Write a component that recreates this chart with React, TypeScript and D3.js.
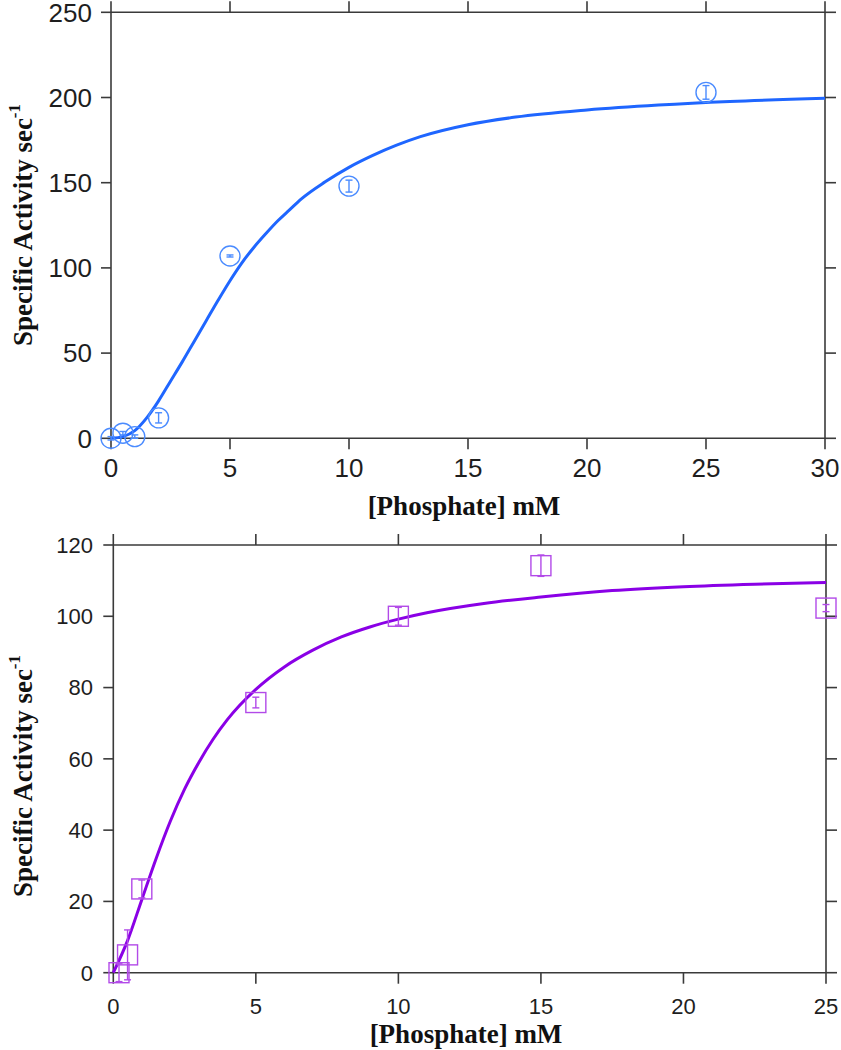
import React from "react";
import * as d3 from "d3";

// ---------- Panel A (top, blue, circles) ----------
const topPtX = [0, 0.5, 1, 2, 5, 10, 25];
const topPtY = [0, 3, 1, 12, 107, 148, 203];
const topPtErr = [1, 1, 1, 3, 0.6, 3.5, 4];
const topCurveX = [0, 0.5, 1, 1.5, 2, 2.5, 3, 3.5, 4, 4.5, 5, 5.5, 6, 6.5, 7, 7.5, 8, 9, 10, 11, 12, 13, 15, 17, 20, 23, 26, 30];
const topCurveY = [0, 1, 4.5, 12, 22, 33.5, 45, 57, 69, 81, 92.5, 103, 112, 120, 127.5, 134, 140.5, 150.5, 159, 166, 172, 177, 184, 188.5, 192.7, 195.6, 197.7, 199.5];
const topXTicks = [0, 5, 10, 15, 20, 25, 30];
const topYTicks = [0, 50, 100, 150, 200, 250];

// ---------- Panel B (bottom, purple, squares) ----------
const botPtX = [0.2, 0.5, 1, 5, 10, 15, 25];
const botPtY = [0, 5, 23.5, 75.8, 100, 114.2, 102.3];
const botPtErr = [2.5, 7, 2.5, 1.5, 2.5, 3, 1];
const botCurveX = [0, 0.5, 1, 1.5, 2, 2.5, 3, 3.5, 4, 5, 6, 7, 8, 9, 10, 11, 13, 15, 17.5, 20, 22.5, 25];
const botCurveY = [0, 9, 20.5, 32, 42.5, 51.5, 59, 65.5, 71, 79.5, 85.8, 90.5, 94.2, 97, 99.2, 101, 103.6, 105.4, 107.2, 108.3, 109, 109.5];
const botXTicks = [0, 5, 10, 15, 20, 25];
const botYTicks = [0, 20, 40, 60, 80, 100, 120];

const AXIS = "#3a3a3a";
const LABEL = "#1e1e1e";

type PanelProps = {
  x0: number; x1: number; y0: number; y1: number;
  xDomain: [number, number]; yDomain: [number, number];
  xTicks: number[]; yTicks: number[];
  ptX: number[]; ptY: number[]; ptErr: number[];
  curveX: number[]; curveY: number[];
  lineColor: string; markColor: string; marker: "circle" | "square";
  tickFont: number; xLabelBaseline: number; yLabelX: number;
  xTitleX: number; xTitleY: number; yTitleX: number; yTitleY: number;
};

function Panel(p: PanelProps) {
  const xs = d3.scaleLinear().domain(p.xDomain).range([p.x0, p.x1]);
  const ys = d3.scaleLinear().domain(p.yDomain).range([p.y1, p.y0]);
  const line = d3
    .line<number>()
    .x((d, i) => xs(p.curveX[i]))
    .y((d) => ys(d))
    .curve(d3.curveMonotoneX);
  const tl = 11;
  return (
    <g>
      {/* frame */}
      <line x1={p.x0} x2={p.x1} y1={p.y1} y2={p.y1} stroke={AXIS} strokeWidth={1.6} />
      <line x1={p.x0} x2={p.x1} y1={p.y0} y2={p.y0} stroke={AXIS} strokeWidth={1.6} />
      <line x1={p.x0} x2={p.x0} y1={p.y0} y2={p.y1} stroke={AXIS} strokeWidth={1.6} />
      <line x1={p.x1} x2={p.x1} y1={p.y0} y2={p.y1} stroke={AXIS} strokeWidth={1.6} />
      {p.xTicks.map((t) => (
        <g key={"xt" + t}>
          <line x1={xs(t)} x2={xs(t)} y1={p.y1} y2={p.y1 + tl} stroke={AXIS} strokeWidth={1.6} />
          <line x1={xs(t)} x2={xs(t)} y1={p.y0} y2={p.y0 - tl} stroke={AXIS} strokeWidth={1.6} />
          <text x={xs(t)} y={p.xLabelBaseline} textAnchor="middle" fontFamily="'Liberation Sans', Arial, sans-serif" fontSize={p.tickFont} fill={LABEL}>{t}</text>
        </g>
      ))}
      {p.yTicks.map((t) => (
        <g key={"yt" + t}>
          <line x1={p.x0 - 10} x2={p.x0} y1={ys(t)} y2={ys(t)} stroke={AXIS} strokeWidth={1.6} />
          <line x1={p.x1} x2={p.x1 + tl} y1={ys(t)} y2={ys(t)} stroke={AXIS} strokeWidth={1.6} />
          <text x={p.yLabelX} y={ys(t)} dy="0.36em" textAnchor="end" fontFamily="'Liberation Sans', Arial, sans-serif" fontSize={p.tickFont} fill={LABEL}>{t}</text>
        </g>
      ))}
      {/* curve */}
      <path d={line(p.curveY) || ""} fill="none" stroke={p.lineColor} strokeWidth={3} strokeLinejoin="round" />
      {/* points */}
      {p.ptX.map((xv, i) => {
        const cx = xs(xv);
        const cy = ys(p.ptY[i]);
        const top = ys(p.ptY[i] + p.ptErr[i]);
        const bot = ys(p.ptY[i] - p.ptErr[i]);
        return (
          <g key={"pt" + i} stroke={p.markColor} fill="none" strokeWidth={1.4}>
            {p.marker === "circle" ? (
              <circle cx={cx} cy={cy} r={10} />
            ) : (
              <rect x={cx - 10} y={cy - 10} width={20} height={20} />
            )}
            <line x1={cx} x2={cx} y1={top} y2={bot} />
            <line x1={cx - 3.5} x2={cx + 3.5} y1={top} y2={top} />
            <line x1={cx - 3.5} x2={cx + 3.5} y1={bot} y2={bot} />
          </g>
        );
      })}
      {/* titles */}
      <text x={p.xTitleX} y={p.xTitleY} textAnchor="middle" fontFamily="'Liberation Serif', 'Times New Roman', serif" fontWeight="bold" fontSize={27} fill="#111">[Phosphate] mM</text>
      <text transform={`translate(${p.yTitleX},${p.yTitleY}) rotate(-90)`} textAnchor="middle" fontFamily="'Liberation Serif', 'Times New Roman', serif" fontWeight="bold" fontSize={27} fill="#111">
        Specific Activity sec
        <tspan fontSize={17} dy={-12}>-1</tspan>
      </text>
    </g>
  );
}

export default function App() {
  return (
    <svg width={841} height={1050} style={{ position: "absolute", left: 0, top: 0, background: "#fff" }}>
      <rect width={841} height={1050} fill="#fff" />
      <Panel
        x0={111} x1={825} y0={12.3} y1={438.3}
        xDomain={[0, 30]} yDomain={[0, 250]}
        xTicks={topXTicks} yTicks={topYTicks}
        ptX={topPtX} ptY={topPtY} ptErr={topPtErr}
        curveX={topCurveX} curveY={topCurveY}
        lineColor="#1f66ff" markColor="#4a8bff" marker="circle"
        tickFont={26} xLabelBaseline={477} yLabelX={92}
        xTitleX={464} xTitleY={515} yTitleX={32} yTitleY={225}
      />
      <Panel
        x0={113.3} x1={826} y0={545} y1={972.7}
        xDomain={[0, 25]} yDomain={[0, 120]}
        xTicks={botXTicks} yTicks={botYTicks}
        ptX={botPtX} ptY={botPtY} ptErr={botPtErr}
        curveX={botCurveX} curveY={botCurveY}
        lineColor="#8a00e6" markColor="#b24ae8" marker="square"
        tickFont={22} xLabelBaseline={1014} yLabelX={93}
        xTitleX={466} xTitleY={1043} yTitleX={32} yTitleY={776}
      />
    </svg>
  );
}
